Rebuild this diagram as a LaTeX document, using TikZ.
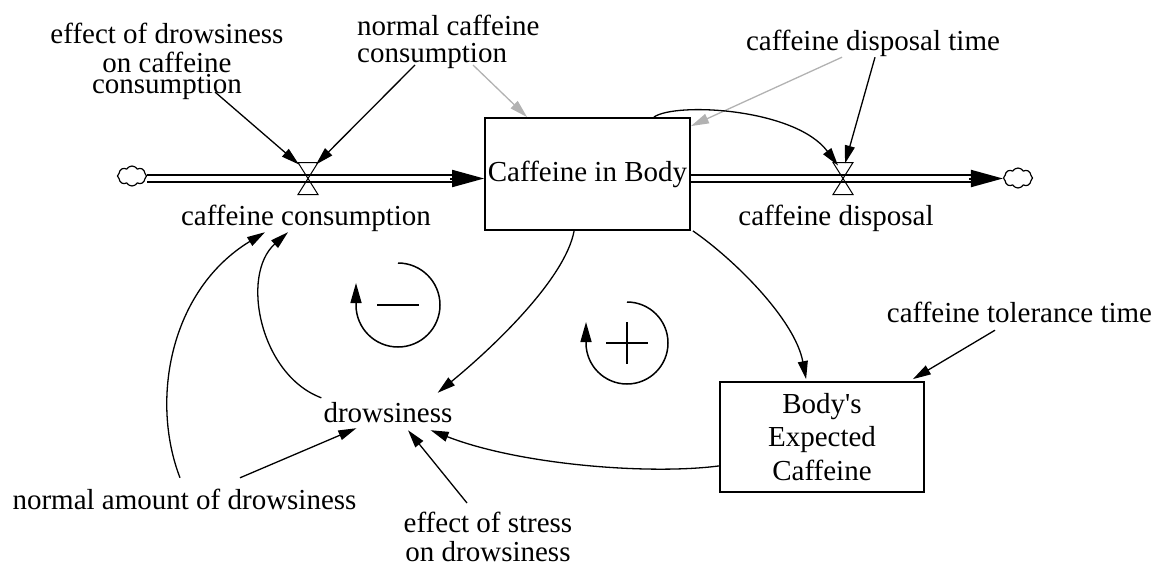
\documentclass[tikz,border=0pt]{standalone}
\usepackage{fontspec}
\setmainfont{Liberation Serif}
\usetikzlibrary{arrows.meta,shapes.symbols,calc}
\begin{document}
\begin{tikzpicture}[x=1pt,y=-1pt,
  lbl/.style={font=\fontsize{29}{29}\selectfont, inner sep=0pt, text height=20pt, text depth=6pt},
  stock/.style={draw, line width=1.8pt, rectangle, inner sep=0pt, font=\fontsize{29}{33.5}\selectfont, align=center},
  conn/.style={line width=1.3pt, -{Triangle[length=18pt,width=10pt]}},
  gconn/.style={conn, draw=black!30},
  pipe/.style={line width=2pt, double=white, double distance=4.5pt},
  pipehead/.style={line width=2pt, -{Triangle[length=32pt,width=17pt]}},
  valveshape/.style={line width=1pt},
  cloudshape/.style={cloud, draw, cloud puffs=8, cloud puff arc=120, aspect=1.4, minimum width=29pt, minimum height=20pt, inner sep=0pt, line width=1.2pt},
  loopline/.style={line width=1.5pt, -{Triangle[length=20pt,width=11pt]}},
  sign/.style={line width=2pt}
]
\useasboundingbox (0,0) rectangle (1156,565);

% stocks
\node[stock, minimum width=205pt, minimum height=112pt] (s1) at (587.5,174) {\raisebox{-5pt}{Caffeine in Body}};
\node[stock, minimum width=204pt, minimum height=110pt] (s2) at (822,437) {Body\textquotesingle s\\Expected\\Caffeine};

% clouds and valves
\node[cloudshape] (cloudL) at (132,176) {};
\node[cloudshape] (cloudR) at (1018,178) {};
\coordinate (v1) at (308,178.5);
\coordinate (v2) at (843,178.5);

% pipes
\draw[pipe] (cloudL.east |- v1) -- ($(s1.west |- v1)+(-30,0)$);
\draw[pipehead] ($(s1.west |- v1)+(-34,0)$) -- (s1.west |- v1);
\draw[pipe] (s1.east |- v2) -- ($(cloudR.west |- v2)+(-30,0)$);
\draw[pipehead] ($(cloudR.west |- v2)+(-34,0)$) -- (cloudR.west |- v2);

% valves
\foreach \v in {v1,v2}{
  \draw[valveshape] ($(\v)+(-10,-16)$) -- ($(\v)+(10,-16)$) -- (\v) -- cycle;
  \draw[valveshape] ($(\v)+(-10,16)$) -- ($(\v)+(10,16)$) -- (\v) -- cycle;
}

% labels
\node[lbl] (ccons) at (306,218) {caffeine consumption};
\node[lbl] (cdisp) at (836,218) {caffeine disposal};
\node[lbl] (cdt) at (873,43) {caffeine disposal time};
\node[lbl, align=left, font=\fontsize{29}{27}\selectfont, anchor=west] (ncc) at (357,55.5) {normal caffeine\\consumption};
\node[lbl, align=center, font=\fontsize{29}{18}\selectfont] (edc) at (167,86) {effect of drowsiness\\[7pt]on caffeine\\consumption};
\node[lbl] (drow) at (388,415) {drowsiness};
\node[lbl] (nad) at (184.5,502) {normal amount of drowsiness};
\node[lbl, align=center, font=\fontsize{29}{29}\selectfont] (eos) at (488,554) {effect of stress\\on drowsiness};
\node[lbl] (ctt) at (1019.5,315) {caffeine tolerance time};

% straight connectors
\draw[conn] ($(edc.center)+(48,6)$) -- ($(v1)+(-9,-14)$);
\draw[conn] ($(ncc.west)+(58,9.5)$) -- ($(v1)+(8,-14)$);
\draw[gconn] ($(ncc.west)+(116,9.5)$) -- ($(s1.north west)+(43,0)$);
\draw[conn] ($(cdt.south)+(2,1)$) -- ($(v2)+(2,-15)$);
\draw[gconn] ($(cdt.south)+(-31,1)$) -- ($(s1.north east)+(0,9)$);
\draw[conn] ($(ctt.south)+(-24.5,2)$) -- ($(s2.north east)+(-12,-2)$);
\draw[conn] ($(nad.north)+(55.5,-11)$) -- ($(drow.south west)+(33,0)$);
\draw[conn] ($(eos.center)+(-21,-51)$) -- ($(drow.south)+(20,2)$);

% curved connectors
\draw[conn] ($(s1.north east)+(-37,0)$) .. controls (675,102) and (795,108) .. ($(v2)+(-5,-13)$);
\draw[conn] ($(s1.south west)+(90,0)$) .. controls (565,280) and (490,350) .. ($(drow.north east)+(-15,-9)$);
\draw[conn] ($(s1.south east)+(2,0)$) .. controls (735,260) and (795,320) .. ($(s2.north west)+(87,-2)$);
\draw[conn] ($(s2.south west)+(0,-27)$) .. controls (650,475) and (520,465) .. ($(drow.south east)+(-22,2)$);
\draw[conn] ($(drow.north west)+(-2,-4)$) .. controls (260,375) and (240,275) .. ($(ccons.south)+(-18,1)$);
\draw[conn] ($(nad.north)+(-4.5,-11)$) .. controls (150,400) and (170,290) .. ($(ccons.south)+(-41,1)$);

% loop markers
\coordinate (lm) at (398,305);
\draw[loopline] ($(lm)+(0,-42)$) arc[start angle=-90, end angle=180, radius=42] -- ++(0,-22);
\draw[sign] ($(lm)+(-21,0)$) -- ($(lm)+(21,0)$);
\coordinate (lp) at (627,343);
\draw[loopline] ($(lp)+(0,-41)$) arc[start angle=-90, end angle=180, radius=41] -- ++(0,-21);
\draw[sign] ($(lp)+(-21,0)$) -- ($(lp)+(21,0)$);
\draw[sign] ($(lp)+(0,-21)$) -- ($(lp)+(0,21)$);
\end{tikzpicture}
\end{document}
